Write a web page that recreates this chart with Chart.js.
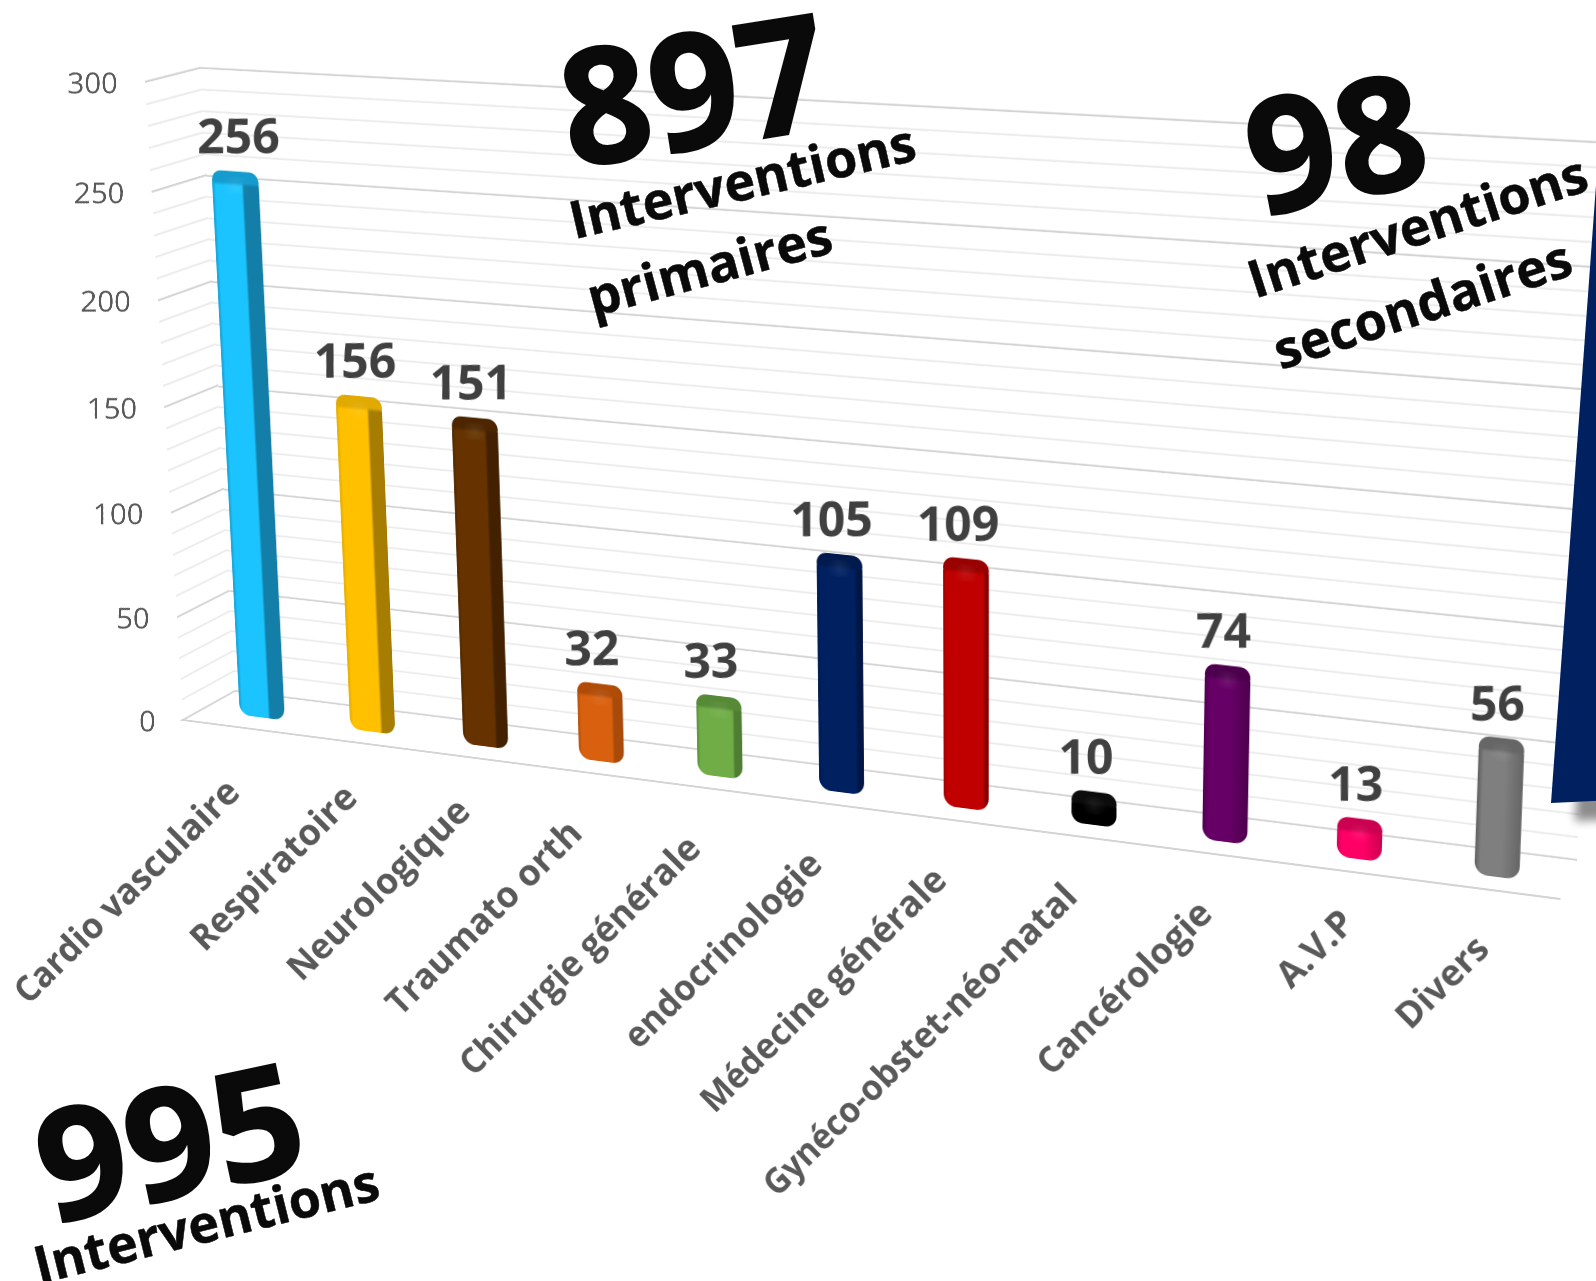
<!DOCTYPE html>
<html>
<head>
<meta charset="utf-8">
<style>
html, body { margin: 0; padding: 0; background: #fff; }
#page { position: relative; width: 1596px; height: 1281px; overflow: hidden; background: #fff; }
#page canvas { position: absolute; left: 0; top: 0; transform-origin: 0 0; }
.big { position: absolute; font-family: "Open Sans", sans-serif; font-weight: 700; color: #0a0a0a; white-space: nowrap; line-height: 1; }
.num { font-size: 168px; -webkit-text-stroke: 2px #0a0a0a; }
.sub { font-size: 52px; -webkit-text-stroke: .5px #0a0a0a; }
#navyWrap { position: absolute; left: 0; top: 0; width: 1596px; height: 1281px; filter: drop-shadow(24px 18px 5px rgba(0,0,0,.45)); }
#navy { position: absolute; left: 0; top: 0; width: 1700px; height: 1281px; background: #002060; clip-path: polygon(1551px 803px, 1596px 185px, 1700px 185px, 1700px 796px); }
</style>
</head>
<body>
<div id="page">
  <canvas id="wall" width="1900" height="1100"></canvas>
  <canvas id="side" width="700" height="1000"></canvas>
  <canvas id="floor" width="1700" height="300"></canvas>
  <canvas id="bars" width="2100" height="1500"></canvas>

  <div class="big num" style="left:693px;top:86px;transform:translate(-50%,-50%) rotate(-9deg) scale(.93,.96)">897</div>
  <div class="big sub" style="left:742px;top:180px;transform:translate(-50%,-50%) rotate(-13deg)">Interventions</div>
  <div class="big sub" style="left:709px;top:265px;transform:translate(-50%,-50%) rotate(-15deg)">primaires</div>

  <div class="big num" style="left:1335px;top:139px;transform:translate(-50%,-50%) rotate(-11deg) scale(.93,.95)">98</div>
  <div class="big sub" style="left:1417px;top:225px;transform:translate(-50%,-50%) rotate(-18deg)">Interventions</div>
  <div class="big sub" style="left:1422px;top:303px;transform:translate(-50%,-50%) rotate(-18deg)">secondaires</div>

  <div class="big num" style="left:169px;top:1138px;transform:translate(-50%,-50%) rotate(-12deg) scale(.93,.92)">995</div>
  <div class="big sub" style="left:206px;top:1222px;transform:translate(-50%,-50%) rotate(-14deg)">Interventions</div>

  <div id="navyWrap"><div id="navy"></div></div>
</div>

<script src="https://cdn.jsdelivr.net/npm/chart.js@4/dist/chart.umd.min.js"></script>
<script>
const categories = ['Cardio vasculaire', 'Respiratoire', 'Neurologique', 'Traumato orth', 'Chirurgie générale',
    'endocrinologie', 'Médecine générale', 'Gynéco-obstet-néo-natal', 'Cancérologie', 'A.V.P', 'Divers'];
const interventions = [256, 156, 151, 32, 33, 105, 109, 10, 74, 13, 56];
const barColors = ['#1cc4ff', '#ffc000', '#663300', '#d9600f', '#70ad47', '#002060', '#c00000', '#000000', '#660066', '#ff0066', '#7f7f7f'];
const capColors = ['#149ccf', '#e0aa00', '#4d2600', '#b04c08', '#568a36', '#001a4e', '#990000', '#0c0c0c', '#4d004d', '#cc0050', '#666666'];
const sideColors = ['#137fa8', '#a67d00', '#432100', '#a84a0a', '#4f7d33', '#001644', '#8a0000', '#000000', '#500050', '#d80058', '#5f5f5f'];
const yMax = 300;
const yStep = 10;
const yLabelStep = 50;

// corners on the page: top-left, top-right, bottom-right, bottom-left
const wallQuad = [[200, 68], [1609, 143], [1577, 860], [235, 691]];
const sideQuad = [[145, 82], [200, 68], [235, 691], [183, 720]];
const floorQuad = [[235, 691], [1577, 860], [1560, 899], [183, 720]];
const barQuad = [[174, 83], [1597, 172], [1567, 886], [208, 710.5]];

const BAR_WIDTH = 45;

function homography(rect, q) {
    const [x0, y0] = q[0], [x1, y1] = q[1], [x2, y2] = q[2], [x3, y3] = q[3];
    const dx1 = x1 - x2, dx2 = x3 - x2, dx3 = x0 - x1 + x2 - x3;
    const dy1 = y1 - y2, dy2 = y3 - y2, dy3 = y0 - y1 + y2 - y3;
    const den = dx1 * dy2 - dx2 * dy1;
    const g = (dx3 * dy2 - dx2 * dy3) / den;
    const h = (dx1 * dy3 - dx3 * dy1) / den;
    const a = x1 - x0 + g * x1, b = x3 - x0 + h * x3;
    const d = y1 - y0 + g * y1, e = y3 - y0 + h * y3;
    const W = rect.right - rect.left, H = rect.bottom - rect.top, l = rect.left, t = rect.top;
    const w0 = 1 - g * l / W - h * t / H;
    return {
        a: a / W / w0, b: b / H / w0, c: (x0 - a * l / W - b * t / H) / w0,
        d: d / W / w0, e: e / H / w0, f: (y0 - d * l / W - e * t / H) / w0,
        g: g / W / w0, h: h / H / w0
    };
}

function project(m, x, y) {
    const w = m.g * x + m.h * y + 1;
    return [(m.a * x + m.b * y + m.c) / w, (m.d * x + m.e * y + m.f) / w];
}

// draw something in plain page pixels, anchored on a chart point
function upright(ctx, m, x, y, draw) {
    const p0 = project(m, x, y), px = project(m, x + 1, y), py = project(m, x, y + 1);
    const ja = px[0] - p0[0], jb = px[1] - p0[1], jc = py[0] - p0[0], jd = py[1] - p0[1];
    const det = ja * jd - jb * jc;
    ctx.save();
    ctx.translate(x, y);
    ctx.transform(jd / det, -jb / det, -jc / det, ja / det, 0, 0);
    draw();
    ctx.restore();
}

// places the canvas on its quad once the chart area is known
const planePlugin = {
    id: 'plane',
    beforeDraw(chart, args, opts) {
        const m = homography(chart.chartArea, opts.quad);
        chart.$m = m;
        chart.canvas.style.transform = `matrix3d(${m.a},${m.d},0,${m.g},${m.b},${m.e},0,${m.h},0,0,1,0,${m.c},${m.f},0,1)`;
    }
};

const gridColor = c => (c.tick.value % yLabelStep === 0 ? '#d4d4d4' : '#ececec');

function planeChart(id, quad, padding, extra) {
    return new Chart(document.getElementById(id), Object.assign({
        plugins: [planePlugin].concat(extra.plugins || []),
        type: 'bar',
        data: extra.data || { labels: [''], datasets: [{ data: [0] }] },
        options: {
            responsive: false,
            animation: false,
            devicePixelRatio: 2,
            layout: { padding: padding },
            plugins: { legend: { display: false }, tooltip: { enabled: false }, plane: { quad: quad } },
            scales: extra.scales
        }
    }));
}

const yGrid = {
    min: 0, max: yMax,
    ticks: { display: false, stepSize: yStep },
    border: { display: false },
    grid: { drawTicks: false, color: gridColor, lineWidth: 2.6 }
};
const xHidden = { display: false };

planeChart('wall', wallQuad, { left: 100, right: 100, top: 100, bottom: 100 }, {
    scales: { x: xHidden, y: yGrid }
});

planeChart('side', sideQuad, { left: 500, right: 20, top: 100, bottom: 100 }, {
    scales: { x: xHidden, y: yGrid },
    plugins: [{
        id: 'yLabels',
        afterDraw(chart) {
            const ctx = chart.ctx, sc = chart.scales.y;
            sc.ticks.filter(t => t.value % yLabelStep === 0).forEach(t => {
                upright(ctx, chart.$m, chart.chartArea.left, sc.getPixelForValue(t.value), () => {
                    ctx.font = '400 28px "Open Sans"';
                    ctx.fillStyle = '#595959';
                    ctx.textAlign = 'right';
                    ctx.textBaseline = 'middle';
                    ctx.fillText(String(t.value), -27, 3);
                });
            });
        }
    }]
});

planeChart('floor', floorQuad, { left: 100, right: 100, top: 100, bottom: 100 }, {
    scales: {
        x: { ticks: { display: false }, grid: { display: false, drawTicks: false }, border: { display: true, color: '#d4d4d4', width: 5 } },
        y: { display: false }
    }
});

// horizontal shading of one bar: soft face, then the darker side
function barGradient(ctx, x, w, i) {
    const g = ctx.createLinearGradient(x - w / 2, 0, x + w / 2, 0);
    const edge = Math.min(0.68 + i * 0.04, 0.92);
    if (i >= 8) {
        g.addColorStop(0, sideColors[i]);
        g.addColorStop(0.12, barColors[i]);
        g.addColorStop(0.6, barColors[i]);
        g.addColorStop(1, capColors[i]);
    } else {
        g.addColorStop(0, capColors[i]);
        g.addColorStop(0.07, barColors[i]);
        g.addColorStop(edge - 0.05, barColors[i]);
        g.addColorStop(edge, sideColors[i]);
        g.addColorStop(1, sideColors[i]);
    }
    return g;
}

// small corrections of the slanted labels, in page pixels
const labelNudgeX = [-3, 4, 4, 0, 0, 0, 0, 3, 7, 15, 12];
const labelNudgeY = [3, -6, -7, 0, 0, 0, 0, 0, 0, -8, 0];

planeChart('bars', barQuad, { left: 300, right: 300, top: 150, bottom: 650 }, {
    data: {
        labels: categories,
        datasets: [{
            data: interventions,
            borderRadius: { topLeft: 3, topRight: 3, bottomLeft: 13, bottomRight: 13 },
            borderSkipped: false,
            backgroundColor: barColors
        }]
    },
    scales: {
        x: { ticks: { display: false }, grid: { display: false, drawTicks: false }, border: { display: false } },
        y: { min: 0, max: yMax, ticks: { display: false }, grid: { display: false, drawTicks: false }, border: { display: false } }
    },
    plugins: [{
        id: 'bar3d',
        beforeDatasetsDraw(chart) {
            const m = homography(chart.chartArea, barQuad);
            chart.getDatasetMeta(0).data.forEach((el, i) => {
                const a = project(m, el.x - 10, chart.chartArea.bottom), b = project(m, el.x + 10, chart.chartArea.bottom);
                el.width = BAR_WIDTH * 20 / (b[0] - a[0]);
                el.options = Object.assign({}, el.options, { backgroundColor: barGradient(chart.ctx, el.x, el.width, i) });
            });
        },
        afterDatasetsDraw(chart) {
            const ctx = chart.ctx, m = chart.$m;
            chart.getDatasetMeta(0).data.forEach((el, i) => {
                const capH = 12, x0 = el.x - el.width / 2;

                // rounded top of the bar, fading into its face
                const cap = ctx.createLinearGradient(0, el.y - capH, 0, el.y + 4);
                cap.addColorStop(0, capColors[i]);
                cap.addColorStop(0.75, capColors[i]);
                cap.addColorStop(1, capColors[i] + '00');
                ctx.save();
                ctx.fillStyle = cap;
                ctx.beginPath();
                ctx.roundRect(x0, el.y - capH, el.width, capH + 4, [11, 11, 0, 0]);
                ctx.fill();

                // faint highlight just under the top
                const spot = ctx.createRadialGradient(el.x, el.y + 3, 0, el.x, el.y + 3, el.width * 0.28);
                spot.addColorStop(0, 'rgba(255,255,255,.08)');
                spot.addColorStop(1, 'rgba(255,255,255,0)');
                ctx.fillStyle = spot;
                ctx.fillRect(el.x - el.width * 0.28, el.y - 6, el.width * 0.56, 18);
                ctx.restore();

                const textX = i === 0 ? 3 : (i >= 3 && i <= 7 ? -8 : -4);
                upright(ctx, m, el.x, el.y, () => {
                    ctx.font = '700 48px "Open Sans"';
                    ctx.fillStyle = '#404040';
                    ctx.textAlign = 'center';
                    ctx.textBaseline = 'middle';
                    ctx.fillText(String(interventions[i]), textX, -43);
                });

                upright(ctx, m, el.x, chart.chartArea.bottom, () => {
                    ctx.translate(-25 + labelNudgeX[i], 67 + labelNudgeY[i]);
                    ctx.rotate(-Math.PI / 4);
                    ctx.font = '700 37px "Open Sans"';
                    ctx.fillStyle = '#595959';
                    ctx.textAlign = 'right';
                    ctx.textBaseline = 'middle';
                    ctx.fillText(categories[i], 0, 0);
                });
            });
        }
    }]
});
</script>
</body>
</html>
